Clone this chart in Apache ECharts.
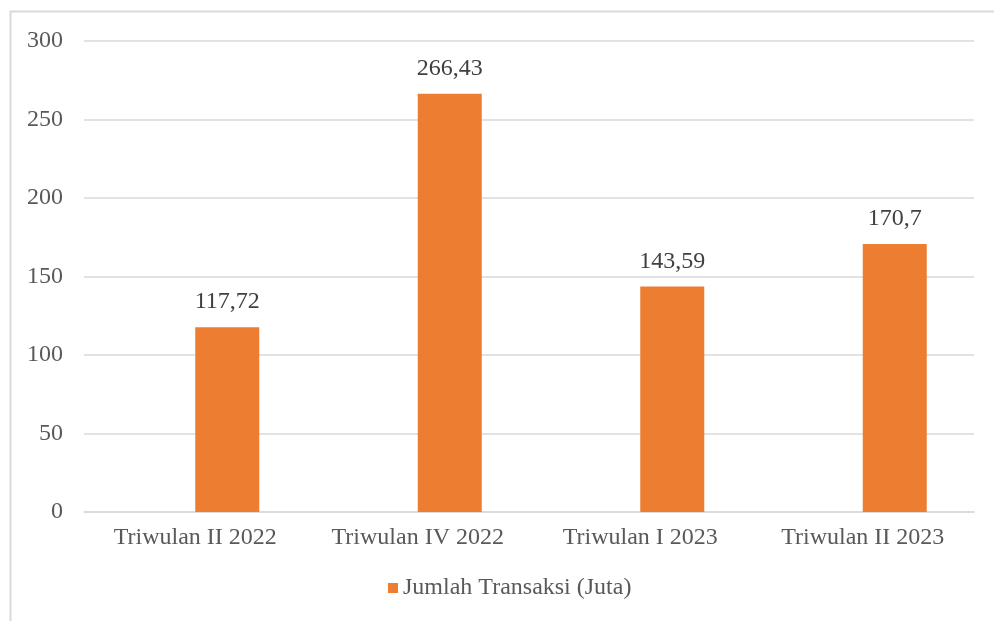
<!DOCTYPE html>
<html>
<head>
<meta charset="utf-8">
<script src="https://cdn.jsdelivr.net/npm/echarts@6/dist/echarts.min.js"></script>
<style>html,body{margin:0;padding:0;background:#fff}#c{width:994px;height:621px}</style>
</head>
<body>
<div id="c"></div>
<script>
const categories = ['Triwulan II 2022', 'Triwulan IV 2022', 'Triwulan I 2023', 'Triwulan II 2023'];
const values = [117.72, 266.43, 143.59, 170.7];
const seriesName = 'Jumlah Transaksi (Juta)';
const yTicks = { min: 0, max: 300, interval: 50 };

const font = "'Liberation Serif', 'Times New Roman', serif";
const chart = echarts.init(document.getElementById('c'));
chart.setOption({
  animation: false,
  graphic: [{
    type: 'rect', shape: { x: 10.5, y: 11.5, width: 1100, height: 800 },
    style: { fill: 'none', stroke: '#d9d9d9', lineWidth: 2 }, silent: true, z: -1
  }],
  grid: { left: 84, right: 20, top: 41, bottom: 109, containLabel: false },
  legend: {
    data: [seriesName], bottom: 16, left: 383,
    itemWidth: 10, itemHeight: 10, itemGap: 6,
    icon: 'rect',
    textStyle: { fontFamily: font, fontSize: 24, color: '#595959', padding: [0, 0, 0, 0] }
  },
  xAxis: {
    type: 'category', data: categories,
    axisLine: { lineStyle: { color: '#d9d9d9', width: 1.5 } },
    axisTick: { show: false },
    axisLabel: { interval: 0, hideOverlap: false, fontFamily: font, fontSize: 24, color: '#595959', margin: 14 }
  },
  yAxis: {
    type: 'value', min: yTicks.min, max: yTicks.max, interval: yTicks.interval,
    axisLine: { show: false }, axisTick: { show: false },
    splitLine: { lineStyle: { color: '#d9d9d9', width: 1.5 } },
    axisLabel: { fontFamily: font, fontSize: 24, color: '#595959', margin: 21 }
  },
  series: [
    { name: 'blank', type: 'bar', data: categories.map(() => '-'), barWidth: 64, barGap: '0%' },
    {
      name: seriesName, type: 'bar', data: values, barWidth: 64, barGap: '0%',
      itemStyle: { color: '#ed7d31' },
      label: {
        show: true, position: 'top', distance: 13,
        fontFamily: font, fontSize: 24, color: '#404040',
        formatter: p => String(p.value).replace('.', ',')
      }
    }
  ]
});
</script>
</body>
</html>
